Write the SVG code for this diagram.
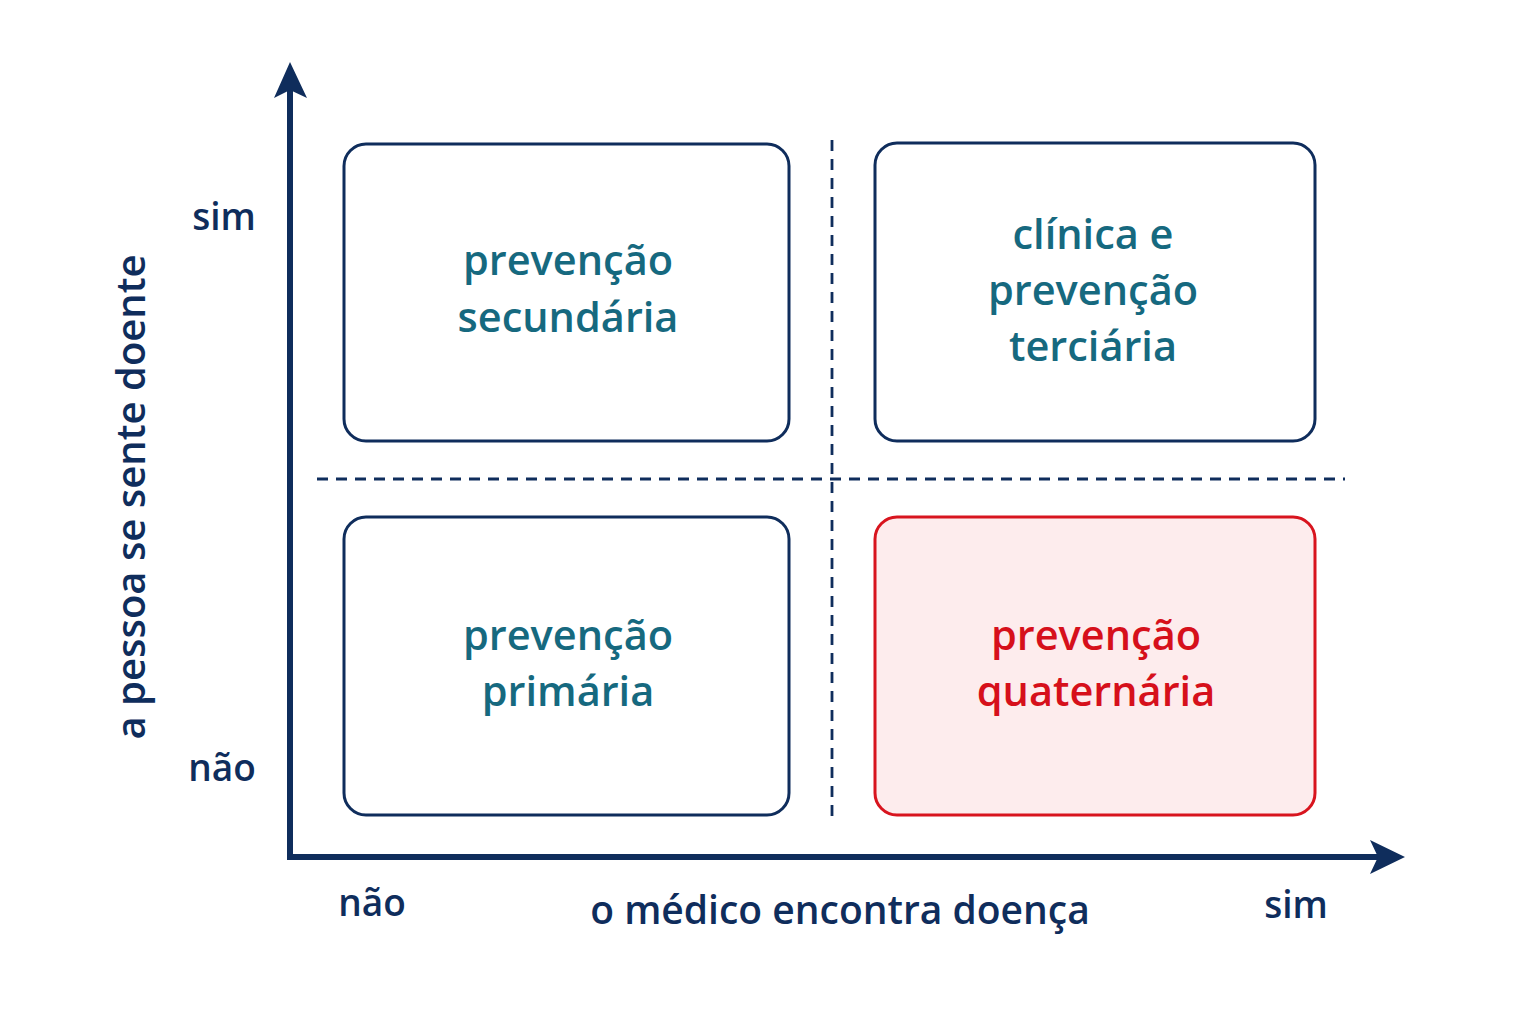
<svg xmlns="http://www.w3.org/2000/svg" width="1536" height="1024" viewBox="0 0 1536 1024">
<style>
.box{fill:#fff;stroke:#0f2d5c;stroke-width:3}
.red{fill:#fdeced;stroke:#d8141e;stroke-width:3}
.t{font-family:"Open Sans","Liberation Sans",sans-serif;font-weight:600;font-size:41.5px;text-anchor:middle;fill:#16697f}
.tr{fill:#d6101b}
.ax{font-family:"Open Sans","Liberation Sans",sans-serif;font-weight:600;font-size:37px;text-anchor:middle;fill:#0f2d5c}
.dash{stroke:#0f2d5c;stroke-width:2.8;stroke-dasharray:11 8;fill:none}
</style>
<rect width="1536" height="1024" fill="#fff"/>
<g id="connectors">
<line class="dash" x1="832" y1="140" x2="832" y2="820"/>
<line class="dash" x1="317" y1="479" x2="1345" y2="479"/>
<line x1="290" y1="858" x2="290" y2="90" stroke="#0f2d5c" stroke-width="6"/>
<polygon points="290,62 307,98 290,90 274,98" fill="#0f2d5c"/>
<line x1="287" y1="857" x2="1380" y2="857" stroke="#0f2d5c" stroke-width="6"/>
<polygon points="1405,857 1370,840 1378,857 1370,874" fill="#0f2d5c"/>
</g>
<g id="secundaria"><rect class="box" x="344" y="144" width="445" height="297" rx="22"/>
<text class="t" x="568" y="275">prevenção</text><text class="t" x="568" y="332">secundária</text></g>
<g id="terciaria"><rect class="box" x="875" y="143" width="440" height="298" rx="22"/>
<text class="t" x="1093" y="249">clínica e</text><text class="t" x="1093" y="305">prevenção</text><text class="t" x="1093" y="361">terciária</text></g>
<g id="primaria"><rect class="box" x="344" y="517" width="445" height="298" rx="22"/>
<text class="t" x="568" y="650">prevenção</text><text class="t" x="568" y="706">primária</text></g>
<g id="quaternaria"><rect class="red" x="875" y="517" width="440" height="298" rx="22"/>
<text class="t tr" x="1096" y="650">prevenção</text><text class="t tr" x="1096" y="706">quaternária</text></g>
<g id="labels">
<text class="ax" x="224" y="230">sim</text>
<text class="ax" x="222" y="781">não</text>
<text class="ax" style="font-size:40px" transform="translate(145,497) rotate(-90)">a pessoa se sente doente</text>
<text class="ax" x="372" y="916">não</text>
<text class="ax" style="font-size:39px" x="840" y="924">o médico encontra doença</text>
<text class="ax" x="1296" y="918">sim</text>
</g>
</svg>
